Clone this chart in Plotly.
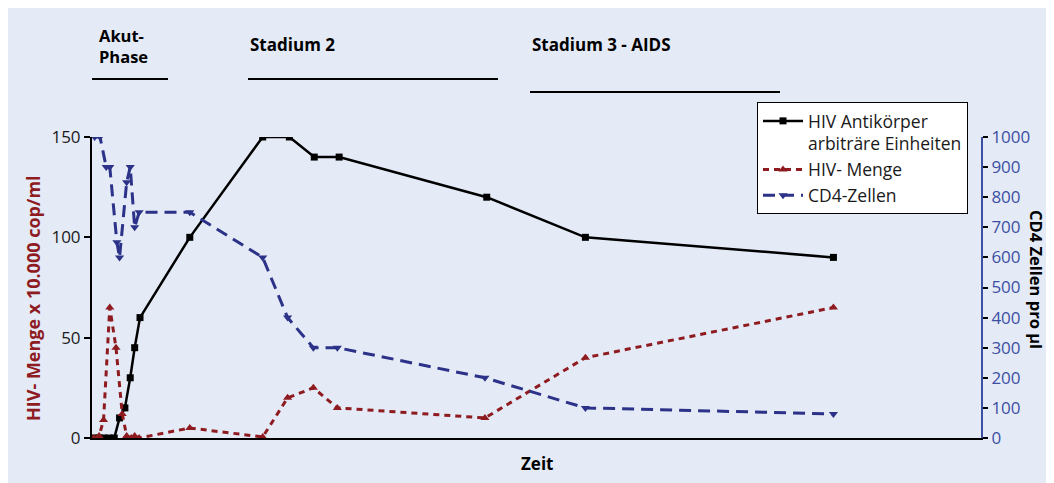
import plotly.graph_objects as go

# ---- data (time in arbitrary units 0..100) ----
zeit_ak = [0.2, 0.8, 1.3, 1.9, 2.5, 3.1, 3.7, 4.3, 4.8, 5.4, 11.0, 19.2, 22.2, 25.0, 27.8, 44.4, 55.5, 83.4]
antikoerper = [0, 0, 0, 0, 0, 10, 15, 30, 45, 60, 100, 150, 150, 140, 140, 120, 100, 90]

zeit_hiv = [0.2, 0.8, 1.3, 2.0, 2.7, 3.4, 3.9, 4.4, 4.8, 5.3, 11.0, 19.2, 22.0, 24.9, 27.6, 44.2, 55.5, 83.4]
hiv_menge = [0, 1, 9, 65, 45, 12, 1, 0, 1, 0, 5, 0.5, 20, 25, 15, 10, 40, 65]

zeit_cd4 = [0.3, 0.9, 1.6, 2.0, 2.8, 3.1, 3.9, 4.3, 4.8, 5.3, 11.0, 19.2, 22.0, 24.9, 27.6, 44.2, 55.5, 83.4]
cd4 = [1000, 1000, 900, 900, 650, 600, 850, 900, 700, 750, 750, 600, 400, 300, 300, 200, 100, 80]

left_ticks = [0, 50, 100, 150]
right_ticks = [0, 100, 200, 300, 400, 500, 600, 700, 800, 900, 1000]

# ---- style ----
BG = "#E4EAF6"
RED = "#8E1B1F"
NAVY = "#2B3288"
AXBLUE = "#3C4FA3"
FONT = "Open Sans"

OFF = 8  # page margin of the html body
W, H = 1046, 475
L, R, T, B = 92 - OFF, W - (981 - OFF), 137 - OFF, H - (438 - OFF)
PW, PH = W - L - R, H - T - B


def px_x(p):
    return (p - OFF - L) / PW


def px_y(p):
    return (H - B - (p - OFF)) / PH


fig = go.Figure()
fig.add_trace(go.Scatter(
    x=zeit_ak, y=antikoerper, name="HIV Antikörper<br>arbiträre Einheiten",
    mode="lines+markers", line=dict(color="black", width=2.5),
    marker=dict(symbol="square", size=7, color="black")))
fig.add_trace(go.Scatter(
    x=zeit_hiv, y=hiv_menge, name="HIV- Menge",
    mode="lines+markers", line=dict(color=RED, width=3, dash="6px,5px"),
    marker=dict(symbol="triangle-up", size=8, color=RED)))
fig.add_trace(go.Scatter(
    x=zeit_cd4, y=cd4, name="CD4-Zellen", yaxis="y2",
    mode="lines+markers", line=dict(color=NAVY, width=3, dash="12px,7px"),
    marker=dict(symbol="triangle-down", size=8, color=NAVY)))

shapes = [
    dict(type="line", xref="paper", yref="paper", x0=px_x(92), x1=px_x(168),
         y0=px_y(79), y1=px_y(79), line=dict(color="black", width=2)),
    dict(type="line", xref="paper", yref="paper", x0=px_x(248), x1=px_x(498),
         y0=px_y(79), y1=px_y(79), line=dict(color="black", width=2)),
    dict(type="line", xref="paper", yref="paper", x0=px_x(530), x1=px_x(780),
         y0=px_y(92), y1=px_y(92), line=dict(color="black", width=2)),
]

annotations = [
    dict(text="<b>Akut-<br>Phase</b>", x=px_x(123), y=px_y(46), xref="paper", yref="paper",
         xanchor="center", yanchor="middle", showarrow=False,
         font=dict(size=16.5, color="black"), align="left"),
    dict(text="<b>Stadium 2</b>", x=px_x(248), y=px_y(44), xref="paper", yref="paper",
         xanchor="left", yanchor="middle", showarrow=False, font=dict(size=17, color="black")),
    dict(text="<b>Stadium 3 - AIDS</b>", x=px_x(530), y=px_y(44), xref="paper", yref="paper",
         xanchor="left", yanchor="middle", showarrow=False, font=dict(size=17, color="black")),
    dict(text="<b>Zeit</b>", x=0.5, y=px_y(463), xref="paper", yref="paper",
         xanchor="center", yanchor="middle", showarrow=False, font=dict(size=17, color="black")),
    dict(text="<b>HIV- Menge x 10.000 cop/ml</b>", x=px_x(33), y=px_y(298), xref="paper", yref="paper",
         xanchor="center", yanchor="middle", textangle=-90, showarrow=False,
         font=dict(size=18, color=RED)),
    dict(text="<b>CD4 Zellen pro µl</b>", x=px_x(1037), y=px_y(279), xref="paper", yref="paper",
         xanchor="center", yanchor="middle", textangle=90, showarrow=False,
         font=dict(size=16.5, color="black")),
]

fig.update_layout(
    width=W, height=H,
    margin=dict(l=L, r=R, t=T, b=B),
    paper_bgcolor=BG,
    plot_bgcolor=BG,
    font=dict(family=FONT, size=17, color="#1a1a1a"),
    showlegend=True,
    legend=dict(x=px_x(757), y=px_y(102), xanchor="left", yanchor="top",
                bgcolor="white", bordercolor="black", borderwidth=1, itemwidth=40,
                font=dict(size=17.5, color="#1a1a1a"), valign="top", tracegroupgap=2),
    xaxis=dict(range=[0, 100], showline=True, linecolor="black", linewidth=2,
               showticklabels=False, ticks="", showgrid=False, zeroline=False),
    yaxis=dict(range=[0, 150], tickvals=left_ticks, ticks="outside", ticklen=6,
               tickwidth=2, tickcolor="black", showline=True, linecolor="black",
               linewidth=2, showgrid=False, zeroline=False,
               tickfont=dict(size=17, color="#1a1a1a")),
    yaxis2=dict(range=[0, 1000], tickvals=right_ticks, overlaying="y", side="right",
                ticks="outside", ticklen=5, tickwidth=2, tickcolor="black",
                showline=True, linecolor=AXBLUE, linewidth=2, showgrid=False,
                zeroline=False, tickfont=dict(size=17, color=AXBLUE)),
    shapes=shapes,
    annotations=annotations,
)

fig.write_html("out.html", post_script="document.body.style.overflow='hidden';")
